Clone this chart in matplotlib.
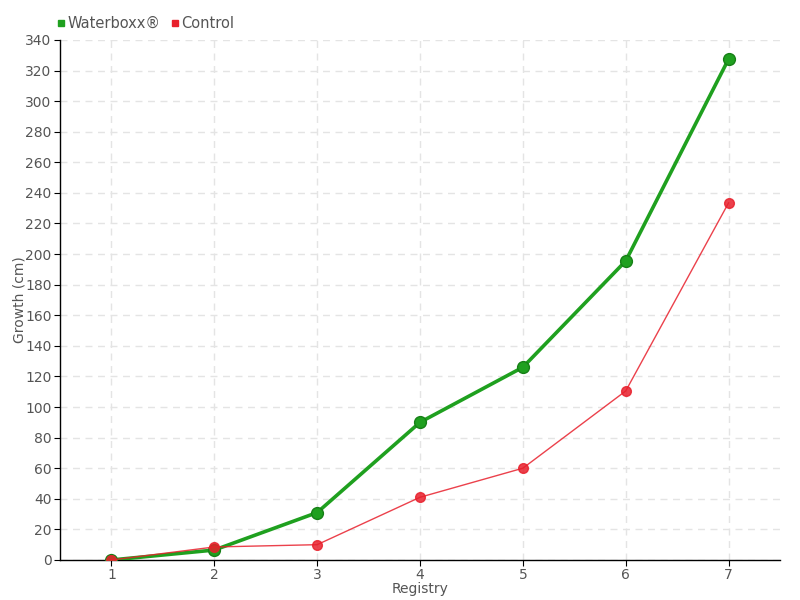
import matplotlib
matplotlib.use("Agg")
import matplotlib.pyplot as plt
from matplotlib.lines import Line2D

registry = [1, 2, 3, 4, 5, 6, 7]
waterboxx = [0, 6.5, 31, 90, 126, 195.5, 327.5]
control = [0, 8.5, 10, 41, 60, 110.5, 233.5]

green = '#1fa01f'
red = '#e8202c'
txt = '#555555'

plt.rcParams['font.family'] = ['DejaVu Sans']

fig = plt.figure(figsize=(8, 6), dpi=100)
ax = fig.add_axes([0.075, 0.0667, 0.9, 0.8667])

ax.plot(registry, waterboxx, color=green, lw=2.6, marker='o', ms=8.5,
        mfc=green, mec='#178017', mew=1, zorder=4)
ax.plot(registry, control, color=red, lw=1, alpha=0.85, marker='o', ms=7,
        mfc=red, mec=red, zorder=5)

ax.set_xlim(0.5, 7.5)
ax.set_ylim(0, 340)
ax.set_xticks(registry)
ax.set_yticks(range(0, 341, 20))
ax.grid(True, color='#e4e4e4', ls=(0, (5, 4)), lw=1)
ax.set_axisbelow(True)

for s in ['top', 'right']:
    ax.spines[s].set_visible(False)
for s in ['left', 'bottom']:
    ax.spines[s].set_color('black')
    ax.spines[s].set_linewidth(1)

ax.tick_params(axis='both', colors='black', labelcolor=txt, labelsize=10, length=4, pad=2)
ax.set_xlabel('Registry', color=txt, fontsize=10, labelpad=0)
ax.set_ylabel('Growth (cm)', color=txt, fontsize=10)
ax.yaxis.set_label_coords(-0.047, 0.5)

handles = [Line2D([], [], ls='none', marker='s', ms=5, color=green),
           Line2D([], [], ls='none', marker='s', ms=5, color=red)]
fig.legend(handles, ['Waterboxx®', 'Control'], loc='upper left',
           bbox_to_anchor=(0.052, 0.995), ncol=2, frameon=False,
           fontsize=10.5, labelcolor=txt, handletextpad=0.05,
           columnspacing=0.6, handlelength=0.8)

fig.savefig('out.png', dpi=100)
